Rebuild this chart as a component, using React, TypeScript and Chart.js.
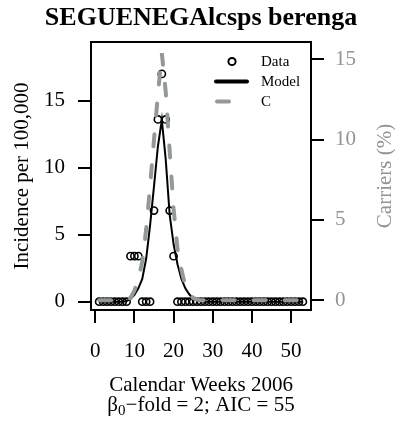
import React, { useEffect, useRef } from "react";
import { Chart, registerables } from "chart.js";

Chart.register(...registerables);

const TITLE = "SEGUENEGAlcsps berenga";
const X_TITLE = "Calendar Weeks 2006";
const Y_TITLE = "Incidence per 100,000";
const Y2_TITLE = "Carriers (%)";
const SUB_BETA = "β";
const SUB_INDEX = "0";
const SUB_REST = "−fold = 2; AIC = 55";
const LEGEND_LABELS = ["Data", "Model", "C"];

const weeks = [
  1, 2, 3, 4, 5, 6, 7, 8, 9, 10, 11, 12, 13, 14, 15, 16, 17, 18, 19, 20,
  21, 22, 23, 24, 25, 26, 27, 28, 29, 30, 31, 32, 33, 34, 35, 36, 37, 38, 39, 40,
  41, 42, 43, 44, 45, 46, 47, 48, 49, 50, 51, 52, 53,
];

const incidence = [
  0, 0, 0, 0, 0, 0, 0, 0, 3.4, 3.4, 3.4, 0, 0, 0, 6.8, 13.6, 17, 13.6, 6.8, 3.4,
  0, 0, 0, 0, 0, 0, 0, 0, 0, 0, 0, 0, 0, 0, 0, 0, 0, 0, 0, 0,
  0, 0, 0, 0, 0, 0, 0, 0, 0, 0, 0, 0, 0,
];

const model = [
  0, 0, 0, 0, 0, 0, 0, 0.05, 0.2, 0.5, 1.0, 1.7, 3.2, 5.7, 8.6, 11.6, 13.56, 10.6, 6.5, 4.3,
  2.8, 1.7, 1.0, 0.55, 0.25, 0.1, 0.03, 0, 0, 0, 0, 0, 0, 0, 0, 0, 0, 0, 0, 0,
  0, 0, 0, 0, 0, 0, 0, 0, 0, 0, 0, 0, 0,
];

const carriers = [
  0, 0, 0, 0, 0, 0, 0, 0.05, 0.15, 0.6, 1.3, 2.4, 4.4, 7.1, 10.0, 12.8, 15.37, 12.95, 9.3, 5.7,
  3.2, 1.9, 0.9, 0.4, 0.15, 0.05, 0, 0, 0, 0, 0, 0, 0, 0, 0, 0, 0, 0, 0, 0,
  0, 0, 0, 0, 0, 0, 0, 0, 0, 0, 0, 0, 0,
];

const xTicks = [0, 10, 20, 30, 40, 50];
const yTicks = [0, 5, 10, 15];
const y2Ticks = [0, 5, 10, 15];

const FONT = "'Liberation Serif', 'Times New Roman', serif";
const GRAY = "#939999";
const GRAY_TEXT = "#8f9494";

const overlay = {
  id: "overlay",
  afterDraw(chart: any) {
    const ctx = chart.ctx as CanvasRenderingContext2D;
    const { left, right, top, bottom } = chart.chartArea;
    const cx = (left + right) / 2;
    const cy = (top + bottom) / 2;
    ctx.save();
    // box
    ctx.strokeStyle = "#000";
    ctx.lineWidth = 2;
    ctx.strokeRect(left, top, right - left, bottom - top);

    // title
    ctx.fillStyle = "#000";
    ctx.textAlign = "center";
    ctx.textBaseline = "alphabetic";
    ctx.font = `bold 26px ${FONT}`;
    ctx.fillText(TITLE, cx, 25);

    // x title
    ctx.font = `21px ${FONT}`;
    ctx.fillText(X_TITLE, cx, 390.5);

    // subtitle with subscript
    ctx.textAlign = "left";
    ctx.font = `21px ${FONT}`;
    const wB = ctx.measureText(SUB_BETA).width;
    const wR = ctx.measureText(SUB_REST).width;
    ctx.font = `15px ${FONT}`;
    const wI = ctx.measureText(SUB_INDEX).width;
    let sx = cx - (wB + wI + wR) / 2;
    ctx.font = `21px ${FONT}`;
    ctx.fillText(SUB_BETA, sx, 410.5);
    sx += wB;
    ctx.font = `15px ${FONT}`;
    ctx.fillText(SUB_INDEX, sx, 414.5);
    sx += wI;
    ctx.font = `21px ${FONT}`;
    ctx.fillText(SUB_REST, sx, 410.5);

    // y title
    ctx.textAlign = "center";
    ctx.save();
    ctx.translate(27.5, cy);
    ctx.rotate(-Math.PI / 2);
    ctx.fillText(Y_TITLE, 0, 0);
    ctx.restore();

    // y2 title
    ctx.save();
    ctx.fillStyle = GRAY_TEXT;
    ctx.translate(391, cy);
    ctx.rotate(-Math.PI / 2);
    ctx.fillText(Y2_TITLE, 0, 0);
    ctx.restore();

    // legend
    ctx.fillStyle = "#000";
    ctx.textAlign = "left";
    ctx.textBaseline = "middle";
    ctx.font = `15px ${FONT}`;
    ctx.beginPath();
    ctx.arc(232, 61.5, 3.6, 0, Math.PI * 2);
    ctx.lineWidth = 2;
    ctx.strokeStyle = "#000";
    ctx.stroke();
    ctx.fillText(LEGEND_LABELS[0], 261, 62);

    ctx.beginPath();
    ctx.moveTo(216, 81.5);
    ctx.lineTo(247, 81.5);
    ctx.lineWidth = 4;
    ctx.lineCap = "round";
    ctx.stroke();
    ctx.fillText(LEGEND_LABELS[1], 261, 82);

    ctx.beginPath();
    ctx.moveTo(217, 101.5);
    ctx.lineTo(229, 101.5);
    ctx.strokeStyle = GRAY;
    ctx.lineWidth = 4;
    ctx.stroke();
    ctx.fillText(LEGEND_LABELS[2], 261, 102);

    ctx.restore();
  },
};

export default function App() {
  const ref = useRef<HTMLCanvasElement | null>(null);

  useEffect(() => {
    if (!ref.current) return;
    const pts = (vals: number[]) => weeks.map((w, i) => ({ x: w, y: vals[i] }));
    const tickFont = { family: FONT, size: 21 };
    const chart = new Chart(ref.current, {
      type: "line",
      data: {
        datasets: [
          {
            label: "C",
            data: pts(carriers),
            yAxisID: "y2",
            borderColor: GRAY,
            borderWidth: 4,
            borderDash: [12, 19],
            borderCapStyle: "round",
            pointRadius: 0,
            fill: false,
            tension: 0,
            order: 0,
          },
          {
            label: "Model",
            data: pts(model),
            yAxisID: "y",
            borderColor: "#000",
            borderWidth: 2,
            pointRadius: 0,
            fill: false,
            tension: 0,
            order: 1,
          },
          {
            label: "Data",
            data: pts(incidence),
            yAxisID: "y",
            showLine: false,
            pointStyle: "circle",
            pointRadius: 3.6,
            pointBorderWidth: 1.6,
            pointBorderColor: "#000",
            pointBackgroundColor: "rgba(0,0,0,0)",
            order: 2,
          },
        ],
      },
      options: {
        responsive: false,
        animation: false,
        devicePixelRatio: 1,
        layout: { padding: { top: 42, left: 0, right: 0, bottom: 0 } },
        plugins: {
          legend: { display: false },
          title: { display: false },
          tooltip: { enabled: false },
        },
        scales: {
          x: {
            type: "linear",
            position: "bottom",
            min: -1.08,
            max: 55.08,
            afterFit: (s: any) => {
              s.height = 117;
            },
            afterBuildTicks: (s: any) => {
              s.ticks = xTicks.map((v) => ({ value: v }));
            },
            grid: {
              display: true,
              drawOnChartArea: false,
              drawTicks: true,
              tickLength: 13,
              color: "#000",
              lineWidth: 2,
            },
            border: { display: false },
            ticks: {
              color: "#000",
              font: tickFont,
              padding: 16,
              maxRotation: 0,
              autoSkip: false,
              callback: (v: any) => String(v),
            },
          },
          y: {
            type: "linear",
            position: "left",
            min: -0.62,
            max: 19.38,
            afterFit: (s: any) => {
              s.width = 91;
            },
            afterBuildTicks: (s: any) => {
              s.ticks = yTicks.map((v) => ({ value: v }));
            },
            grid: {
              display: true,
              drawOnChartArea: false,
              drawTicks: true,
              tickLength: 13,
              color: "#000",
              lineWidth: 2,
            },
            border: { display: false },
            ticks: {
              color: "#000",
              font: tickFont,
              padding: 13,
              autoSkip: false,
              callback: (v: any) => String(v),
            },
          },
          y2: {
            type: "linear",
            position: "right",
            min: -0.6,
            max: 16.07,
            afterFit: (s: any) => {
              s.width = 84;
            },
            afterBuildTicks: (s: any) => {
              s.ticks = y2Ticks.map((v) => ({ value: v }));
            },
            grid: {
              display: true,
              drawOnChartArea: false,
              drawTicks: true,
              tickLength: 13,
              color: "#000",
              lineWidth: 2,
            },
            border: { display: false },
            ticks: {
              color: GRAY_TEXT,
              font: tickFont,
              padding: 11,
              autoSkip: false,
              callback: (v: any) => String(v),
            },
          },
        },
      },
      plugins: [overlay],
    });
    return () => chart.destroy();
  }, []);

  return (
    <div style={{ position: "absolute", left: 0, top: 0, width: 395, height: 427, background: "#fff" }}>
      <canvas ref={ref} width={395} height={427} style={{ width: 395, height: 427, display: "block" }} />
    </div>
  );
}
